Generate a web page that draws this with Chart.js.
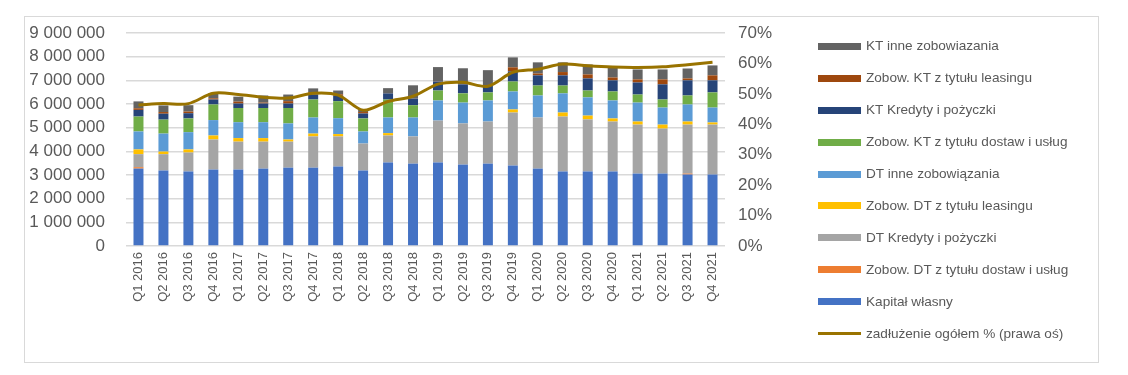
<!DOCTYPE html>
<html>
<head>
<meta charset="utf-8">
<script src="https://cdn.jsdelivr.net/npm/chart.js@4"></script>
<style>
  body { margin:0; background:#fff; }
  #frame { position:absolute; left:24px; top:16px; width:1073px; height:345px; border:1px solid #D9D9D9; }
  #wrap { position:absolute; left:0; top:0; width:1128px; height:375px; }
  #legend { position:absolute; left:0; top:0; font-family:"Liberation Sans", Arial, sans-serif; font-size:13.6px; color:#595959; }
  .li { position:absolute; left:818px; height:16px; white-space:nowrap; }
  .li .sw { position:absolute; left:0; width:43px; }
  .li .tx { position:absolute; left:48px; top:0; line-height:16px; }
</style>
</head>
<body>
<div id="frame"></div>
<div id="wrap"><canvas id="chart" width="1128" height="375"></canvas></div>
<div id="legend"></div>
<script>
// categories
const quarters = [
  'Q1 2016','Q2 2016','Q3 2016','Q4 2016','Q1 2017','Q2 2017','Q3 2017','Q4 2017',
  'Q1 2018','Q2 2018','Q3 2018','Q4 2018','Q1 2019','Q2 2019','Q3 2019','Q4 2019',
  'Q1 2020','Q2 2020','Q3 2020','Q4 2020','Q1 2021','Q2 2021','Q3 2021','Q4 2021'
];

// stacked series, bottom to top (PLN)
const kapitalWlasny = [3270000,3190000,3150000,3230000,3230000,3270000,3310000,3310000,3360000,3190000,3530000,3480000,3530000,3440000,3480000,3400000,3270000,3150000,3150000,3150000,3060000,3060000,3020000,3020000];
const dtDostawy     = [60000,0,0,0,0,0,0,0,0,0,0,0,0,0,0,0,0,0,0,0,0,0,40000,0];
const dtKredyty     = [550000,690000,800000,1270000,1180000,1140000,1100000,1320000,1270000,1140000,1140000,1150000,1770000,1740000,1780000,2240000,2160000,2320000,2200000,2110000,2070000,1900000,2070000,2110000];
const dtLeasing     = [200000,110000,130000,170000,150000,150000,90000,120000,100000,0,100000,0,0,0,0,130000,0,170000,160000,130000,130000,170000,130000,90000];
const dtInne        = [760000,760000,730000,650000,670000,670000,680000,680000,670000,510000,660000,800000,850000,880000,890000,760000,930000,810000,770000,760000,800000,720000,720000,630000];
const ktDostawy     = [630000,590000,580000,660000,600000,600000,650000,760000,720000,550000,760000,520000,420000,390000,340000,420000,420000,330000,290000,380000,340000,340000,380000,640000];
const ktKredyty     = [280000,250000,220000,210000,190000,190000,190000,210000,230000,210000,260000,280000,380000,380000,290000,430000,430000,430000,510000,470000,510000,640000,640000,510000];
const ktLeasing     = [70000,70000,70000,50000,80000,40000,100000,100000,60000,60000,10000,10000,10000,10000,10000,170000,80000,140000,170000,120000,130000,210000,80000,210000];
const ktInne        = [290000,280000,270000,220000,210000,300000,280000,160000,160000,110000,210000,550000,600000,670000,640000,420000,470000,410000,420000,430000,420000,420000,420000,420000];

// right axis line (%)
const zadluzenie = [46.3,46.8,46.8,50.2,49.8,48.9,48.6,50.2,49.6,44.6,47.5,49.2,53.2,53.8,52.5,57.1,58.1,59.8,59.2,58.8,58.7,58.9,59.6,60.4];

const leftTicksMax = 9000000;
const rightTicksMax = 70;

(function(){
  const txt = '#595959';
  const font = "'Liberation Sans', Arial, sans-serif";
  const fmt = (v)=> String(v).replace(/\B(?=(\d{3})+(?!\d))/g, ' ');

  const bar = (label, data, color)=> ({
    type:'bar', label, data, backgroundColor:color, borderWidth:0,
    stack:'s', yAxisID:'y', order:1, categoryPercentage:1, barPercentage:0.4
  });

  const datasets = [
    { type:'line', label:'zadłużenie ogółem % (prawa oś)', data:zadluzenie, yAxisID:'y1',
      borderColor:'#997300', backgroundColor:'#997300', borderWidth:3, pointRadius:0,
      tension:0.3, order:0 },
    bar('Kapitał własny', kapitalWlasny, '#4472C4'),
    bar('Zobow. DT z tytułu dostaw i usług', dtDostawy, '#ED7D31'),
    bar('DT Kredyty i pożyczki', dtKredyty, '#A5A5A5'),
    bar('Zobow. DT z tytułu leasingu', dtLeasing, '#FFC000'),
    bar('DT inne zobowiązania', dtInne, '#5B9BD5'),
    bar('Zobow. KT z tytułu dostaw i usług', ktDostawy, '#70AD47'),
    bar('KT Kredyty i pożyczki', ktKredyty, '#264478'),
    bar('Zobow. KT z tytułu leasingu', ktLeasing, '#9E480E'),
    bar('KT inne zobowiazania', ktInne, '#636363')
  ];

  new Chart(document.getElementById('chart'), {
    data:{ labels:quarters, datasets },
    options:{
      responsive:false, animation:false,
      layout:{ padding:{ top:33, left:0, right:0, bottom:0 } },
      plugins:{ legend:{ display:false }, tooltip:{ enabled:false } },
      scales:{
        x:{
          stacked:true,
          grid:{ display:false, drawTicks:false },
          border:{ display:false },
          ticks:{ color:txt, font:{ family:font, size:13 }, maxRotation:90, minRotation:90, padding:6, autoSkip:false },
          afterFit:(s)=>{ s.height = 129; }
        },
        y:{
          stacked:true, position:'left', min:0, max:leftTicksMax,
          grid:{ color:'#D9D9D9', lineWidth:1.5, drawTicks:false },
          border:{ display:false },
          ticks:{ stepSize:1000000, color:txt, font:{ family:font, size:17 }, padding:21, callback:(v)=>fmt(v) },
          afterFit:(s)=>{ s.width = 126; }
        },
        y1:{
          position:'right', min:0, max:rightTicksMax,
          grid:{ display:false, drawTicks:false },
          border:{ display:false },
          ticks:{ stepSize:10, color:txt, font:{ family:font, size:17 }, padding:13, callback:(v)=>v+'%' },
          afterFit:(s)=>{ s.width = 403; }
        }
      }
    }
  });

  // legend, top to bottom in reverse stack order, line last
  const legend = document.getElementById('legend');
  const items = datasets.slice(1).reverse().concat([datasets[0]]);
  items.forEach((d,i)=>{
    const cy = 46.2 + i*31.95;
    const el = document.createElement('div');
    el.className = 'li';
    el.style.top = (cy - 8) + 'px';
    const sw = document.createElement('div');
    sw.className = 'sw';
    const h = d.type === 'line' ? 3 : 7;
    sw.style.height = h + 'px';
    sw.style.top = (8 - h/2) + 'px';
    sw.style.background = d.type === 'line' ? d.borderColor : d.backgroundColor;
    const tx = document.createElement('span');
    tx.className = 'tx';
    tx.textContent = d.label;
    el.appendChild(sw); el.appendChild(tx);
    legend.appendChild(el);
  });
})();
</script>
</body>
</html>
